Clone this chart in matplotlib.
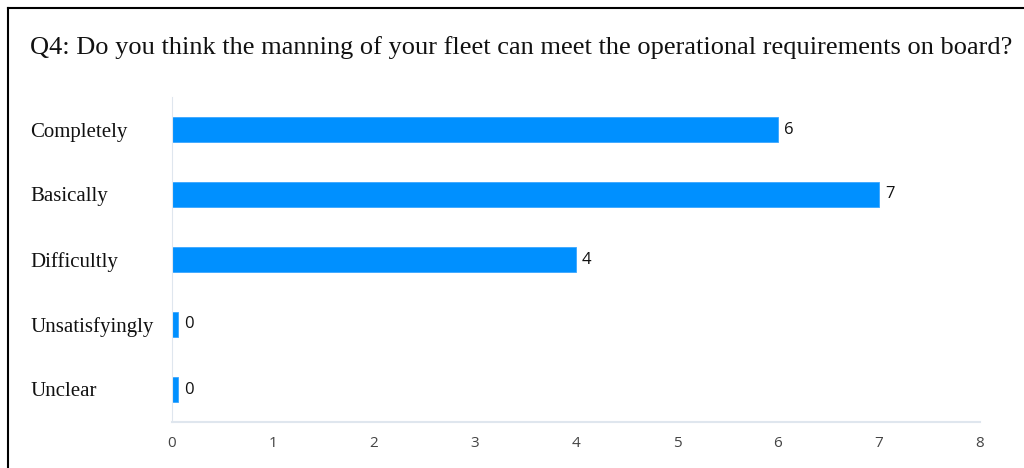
import matplotlib.pyplot as plt
from matplotlib.lines import Line2D

categories = ['Completely', 'Basically', 'Difficultly', 'Unsatisfyingly', 'Unclear']
counts = [6, 7, 4, 0, 0]
xticks = [0, 1, 2, 3, 4, 5, 6, 7, 8]
title = 'Q4: Do you think the manning of your fleet can meet the operational requirements on board?'

fig = plt.figure(figsize=(10.24, 4.68), dpi=100)
ax = fig.add_axes([172/1024, 46/468, 808/1024, 325/468])

# zero answers still get a thin stub, like the original survey tool
widths = [max(c, 0.06) for c in counts]
ypos = list(range(len(categories)))
ax.barh(ypos, widths, height=0.37, color='#0090ff', edgecolor='#3aa6ff', linewidth=0.6)

for y, c, w in zip(ypos, counts, widths):
    ax.text(w + 0.06, y, str(c), va='center', ha='left', fontsize=12,
            family='Open Sans', color='#111111')

ax.set_xlim(0, 8)
ax.set_ylim(4.5, -0.5)
ax.set_xticks(xticks)
ax.set_xticklabels([str(t) for t in xticks], family='Open Sans', fontsize=11, color='#444444')
ax.set_yticks(ypos)
ax.set_yticklabels(categories, family='Liberation Serif', fontsize=15, color='#111111', ha='left')
ax.tick_params(axis='y', length=0, pad=102)
ax.tick_params(axis='x', length=0, pad=10)

for side in ['top', 'right']:
    ax.spines[side].set_visible(False)
ax.spines['left'].set_color('#dfe6ee')
ax.spines['bottom'].set_color('#dfe6ee')
ax.spines['bottom'].set_linewidth(1.5)

fig.text(30/1024, 1 - 48/468, title, family='Liberation Serif', fontsize=19,
         va='center', ha='left', color='#111111')

# frame around the figure (left and top edges visible)
fig.add_artist(Line2D([8/1024, 8/1024], [0, 1 - 8/468], color='black', lw=1.5))
fig.add_artist(Line2D([8/1024, 1], [1 - 8/468, 1 - 8/468], color='black', lw=1.5))

fig.savefig('out.png', dpi=100, facecolor='white')
